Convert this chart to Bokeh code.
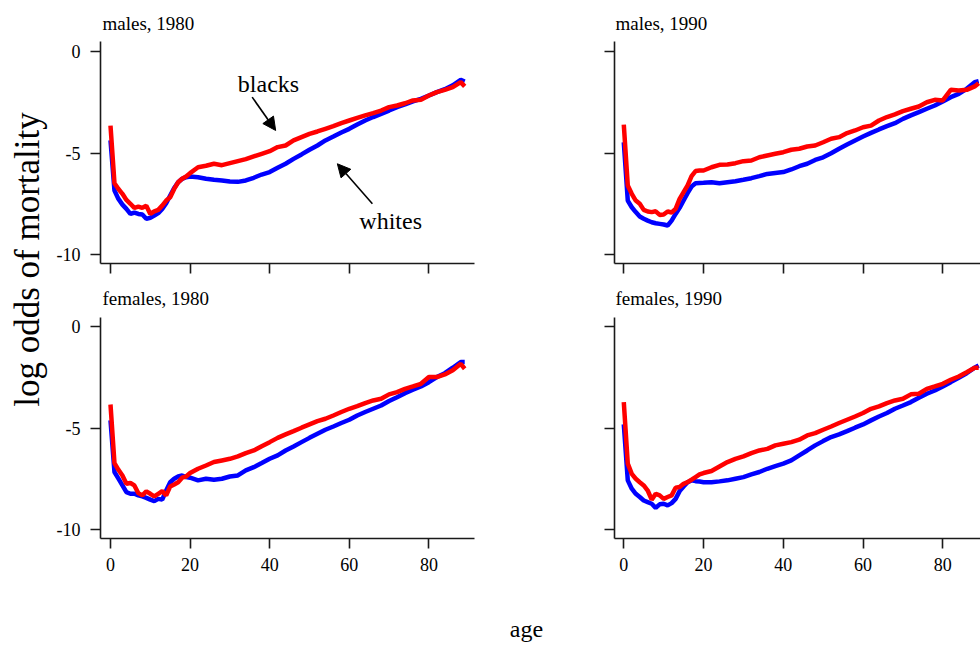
import math
from bokeh.plotting import figure
from bokeh.layouts import row, column
from bokeh.models import Range1d, FixedTicker, Arrow, NormalHead
from bokeh.embed import file_html
from bokeh.resources import INLINE
from bokeh.core.properties import value

FONT = "Liberation Serif"

# ---------------- data ----------------
age = list(range(0, 21)) + list(range(22, 89, 2)) + [89]

males_1980_blacks = [-3.65, -6.49, -6.77, -7.01, -7.31, -7.50, -7.70, -7.64, -7.70, -7.60,
                     -8.00, -7.87, -7.80, -7.59, -7.34, -7.18, -6.77, -6.44, -6.27, -6.16, -5.99,
                     -5.70, -5.63, -5.53, -5.60, -5.50, -5.40, -5.30, -5.17, -5.04, -4.91,
                     -4.71, -4.63, -4.38, -4.22, -4.06, -3.94, -3.81, -3.68, -3.53, -3.40,
                     -3.27, -3.15, -3.04, -2.91, -2.74, -2.66, -2.55, -2.41, -2.38, -2.17,
                     -2.00, -1.89, -1.76, -1.51, -1.72]
males_1980_whites = [-4.38, -6.85, -7.26, -7.54, -7.75, -8.00, -7.93, -8.00, -8.03, -8.24,
                     -8.19, -8.08, -7.96, -7.75, -7.47, -7.09, -6.72, -6.44, -6.27, -6.19, -6.16,
                     -6.19, -6.27, -6.32, -6.35, -6.40, -6.42, -6.35, -6.22, -6.06, -5.94,
                     -5.73, -5.53, -5.29, -5.07, -4.84, -4.63, -4.38, -4.19, -3.99, -3.81,
                     -3.60, -3.40, -3.23, -3.07, -2.91, -2.74, -2.61, -2.46, -2.33, -2.17,
                     -2.00, -1.86, -1.67, -1.40, -1.48]
males_1990_blacks = [-3.60, -6.60, -7.01, -7.34, -7.50, -7.80, -7.88, -7.91, -7.87, -8.05,
                     -8.03, -7.88, -7.93, -7.75, -7.26, -6.93, -6.60, -6.14, -5.89, -5.86, -5.86,
                     -5.70, -5.58, -5.57, -5.50, -5.40, -5.37, -5.21, -5.12, -5.04, -4.96,
                     -4.84, -4.79, -4.68, -4.63, -4.47, -4.30, -4.22, -4.02, -3.89, -3.73,
                     -3.65, -3.40, -3.23, -3.10, -2.94, -2.82, -2.71, -2.50, -2.38, -2.41,
                     -1.89, -1.92, -1.89, -1.72, -1.56]
males_1990_whites = [-4.47, -7.34, -7.67, -7.91, -8.13, -8.24, -8.33, -8.41, -8.46, -8.49,
                     -8.52, -8.57, -8.33, -8.00, -7.70, -7.34, -6.98, -6.65, -6.49, -6.48, -6.47,
                     -6.44, -6.49, -6.44, -6.39, -6.32, -6.24, -6.14, -6.03, -5.98, -5.94,
                     -5.81, -5.65, -5.53, -5.34, -5.21, -5.01, -4.79, -4.58, -4.38, -4.19,
                     -4.01, -3.84, -3.68, -3.53, -3.32, -3.15, -2.99, -2.82, -2.66, -2.46,
                     -2.25, -2.09, -1.84, -1.51, -1.46]
females_1980_blacks = [-3.84, -6.72, -7.05, -7.33, -7.74, -7.70, -7.82, -8.20, -8.31, -8.11,
                       -8.23, -8.36, -8.23, -8.10, -8.31, -7.87, -7.77, -7.66, -7.44, -7.38, -7.21,
                       -7.00, -6.84, -6.67, -6.59, -6.51, -6.39, -6.23, -6.10, -5.89, -5.69,
                       -5.48, -5.31, -5.15, -4.98, -4.82, -4.66, -4.54, -4.38, -4.21, -4.05,
                       -3.92, -3.77, -3.64, -3.56, -3.34, -3.23, -3.07, -2.95, -2.82, -2.49,
                       -2.49, -2.36, -2.16, -1.84, -2.08]
females_1980_whites = [-4.62, -7.16, -7.49, -7.82, -8.15, -8.23, -8.23, -8.31, -8.36, -8.43,
                       -8.52, -8.59, -8.48, -8.52, -8.07, -7.66, -7.49, -7.38, -7.33, -7.41, -7.44,
                       -7.57, -7.49, -7.54, -7.49, -7.38, -7.33, -7.08, -6.92, -6.72, -6.51,
                       -6.34, -6.10, -5.90, -5.69, -5.48, -5.28, -5.08, -4.92, -4.75, -4.59,
                       -4.38, -4.21, -4.05, -3.89, -3.67, -3.48, -3.28, -3.11, -2.95, -2.74,
                       -2.49, -2.30, -2.03, -1.75, -1.75]
females_1990_blacks = [-3.72, -6.75, -7.25, -7.49, -7.66, -7.82, -8.07, -8.52, -8.23, -8.31,
                       -8.48, -8.39, -8.31, -7.93, -7.90, -7.74, -7.66, -7.54, -7.41, -7.28, -7.21,
                       -7.11, -6.89, -6.67, -6.51, -6.39, -6.23, -6.10, -6.02, -5.85, -5.77,
                       -5.69, -5.57, -5.36, -5.25, -5.08, -4.92, -4.75, -4.59, -4.43, -4.26,
                       -4.05, -3.93, -3.77, -3.64, -3.56, -3.34, -3.31, -3.07, -2.95, -2.82,
                       -2.62, -2.46, -2.25, -2.03, -2.03]
females_1990_whites = [-4.82, -7.57, -7.98, -8.23, -8.39, -8.56, -8.64, -8.72, -8.92, -8.75,
                       -8.72, -8.80, -8.69, -8.48, -8.10, -7.87, -7.66, -7.57, -7.61, -7.63, -7.66,
                       -7.66, -7.62, -7.57, -7.49, -7.41, -7.28, -7.16, -7.00, -6.87, -6.75,
                       -6.59, -6.34, -6.10, -5.85, -5.64, -5.44, -5.31, -5.15, -4.98, -4.82,
                       -4.62, -4.43, -4.26, -4.05, -3.89, -3.72, -3.51, -3.31, -3.15, -2.95,
                       -2.74, -2.52, -2.30, -2.03, -1.92]

x_ticks = [0, 20, 40, 60, 80]
x_tick_labels = ["0", "20", "40", "60", "80"]
y_ticks = [-10, -5, 0]
y_tick_labels = ["-10", "-5", "0"]

row1_titles = ["males, 1980", "males, 1990"]
row2_titles = ["females, 1980", "females, 1990"]

# annotation labels (data coordinates of top-left panel)
ann_text = ["blacks", "whites"]
ann_x = [39.7, 70.4]
ann_y = [-1.58, -8.33]
arrow_x0 = [35.6, 65.8]
arrow_y0 = [-2.25, -7.50]
arrow_x1 = [41.5, 57.0]
arrow_y1 = [-3.89, -5.53]

AX_COLOR = "#1a1a1a"


def panel(blacks, whites, width, height, xr, yr, mbl, mbr, mbt, mbb, ylabels, xlabels):
    p = figure(width=width, height=height, x_range=Range1d(*xr), y_range=Range1d(*yr),
               output_backend="svg", toolbar_location=None,
               min_border_left=mbl, min_border_right=mbr,
               min_border_top=mbt, min_border_bottom=mbb)
    p.outline_line_color = None
    p.grid.visible = False
    p.background_fill_color = "white"
    p.border_fill_color = "white"
    for ax in (p.xaxis[0], p.yaxis[0]):
        ax.axis_line_color = AX_COLOR
        ax.axis_line_width = 1.6
        ax.major_tick_line_color = AX_COLOR
        ax.major_tick_line_width = 1.6
        ax.major_tick_out = 10
        ax.major_tick_in = 0
        ax.minor_tick_line_color = None
        ax.major_label_text_font = FONT
        ax.major_label_text_font_size = "18px"
        ax.major_label_text_color = "black"
    p.xaxis.ticker = FixedTicker(ticks=x_ticks)
    p.yaxis.ticker = FixedTicker(ticks=y_ticks)
    p.yaxis.major_label_standoff = 10
    p.xaxis.major_label_standoff = 9
    if ylabels:
        p.yaxis.major_label_overrides = {t: s for t, s in zip(y_ticks, y_tick_labels)}
    else:
        p.yaxis.major_label_overrides = {t: "" for t in y_ticks}
        p.yaxis.major_label_text_font_size = "1px"
        p.yaxis.major_label_standoff = 0
    if xlabels:
        p.xaxis.major_label_overrides = {t: s for t, s in zip(x_ticks, x_tick_labels)}
    else:
        p.xaxis.major_label_overrides = {t: "" for t in x_ticks}
        p.xaxis.major_label_text_font_size = "1px"
        p.xaxis.major_label_standoff = 0
    p.line(age, whites, line_color="#0000ff", line_width=4.5)
    p.line(age, blacks, line_color="#ff0000", line_width=4.5)
    return p


TL = panel(males_1980_blacks, males_1980_whites, 544, 244,
           (-2.51, 91.46), (-10.44, 0.49), 50, 120, 5, 17, True, False)
TR = panel(males_1990_blacks, males_1990_whites, 386, 244,
           (-2.33, 89.46), (-10.44, 0.49), 20, 0, 5, 17, False, False)
BL = panel(females_1980_blacks, females_1980_whites, 544, 278,
           (-2.51, 91.46), (-10.43, 0.44), 50, 120, 7, 50, True, True)
BR = panel(females_1990_blacks, females_1990_whites, 386, 278,
           (-2.33, 89.46), (-10.43, 0.44), 20, 0, 7, 50, False, True)

# annotations in the first panel
TL.text(x=ann_x, y=ann_y, text=ann_text, text_align="center", text_baseline="middle",
        text_font=value(FONT), text_font_size="24px", text_color="black")
for i in range(len(arrow_x0)):
    TL.add_layout(Arrow(end=NormalHead(size=13, fill_color="black", line_color="black",
                                       line_width=1),
                        x_start=arrow_x0[i], y_start=arrow_y0[i],
                        x_end=arrow_x1[i], y_end=arrow_y1[i],
                        line_color="black", line_width=1.6))


def blank(width, height):
    f = figure(width=width, height=height, x_range=Range1d(0, width), y_range=Range1d(0, height),
               output_backend="svg", toolbar_location=None,
               min_border_left=0, min_border_right=0, min_border_top=0, min_border_bottom=0)
    f.axis.visible = False
    f.grid.visible = False
    f.outline_line_color = None
    return f


# title strips above each row of panels (pixel coordinates inside the strip)
strip1 = blank(930, 36)
strip1.text(x=[52, 565], y=[13, 13], text=row1_titles, text_align="left",
            text_baseline="alphabetic", text_font=value(FONT), text_font_size="19px",
            text_color="black")
strip2 = blank(930, 30)
strip2.text(x=[52, 565], y=[12, 12], text=row2_titles, text_align="left",
            text_baseline="alphabetic", text_font=value(FONT), text_font_size="19px",
            text_color="black")

ylab = blank(50, 588)
ylab.text(x=[27], y=[588 - 259], text=["log odds of mortality"], angle=math.pi / 2,
          text_align="center", text_baseline="middle", text_font=value(FONT),
          text_font_size="35px", text_color="black")

xlab = blank(980, 58)
xlab.text(x=[526], y=[58 - (628 - 588)], text=["age"], text_align="center",
          text_baseline="middle", text_font=value(FONT), text_font_size="24px",
          text_color="black")

layout = column(row(ylab, column(strip1, row(TL, TR), strip2, row(BL, BR))), xlab)

open("out.html", "w").write(file_html(layout, INLINE))
